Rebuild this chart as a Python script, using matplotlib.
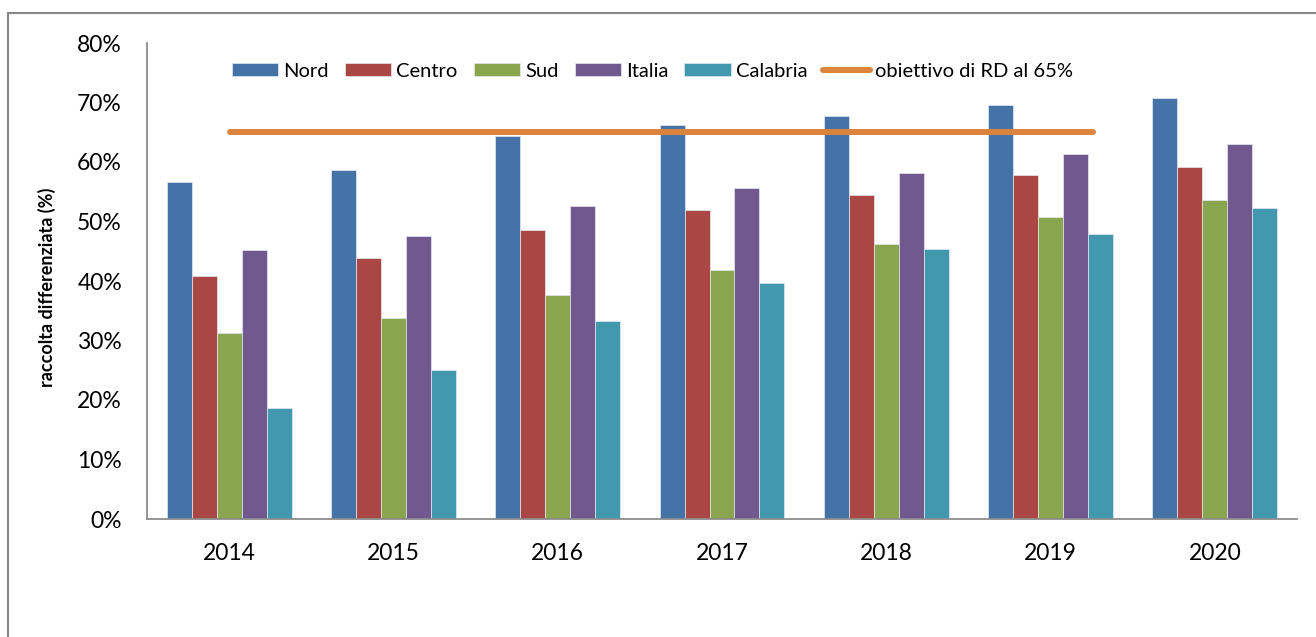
import matplotlib
matplotlib.use("Agg")
import matplotlib.pyplot as plt
from matplotlib.lines import Line2D
import numpy as np

plt.rcParams['font.family'] = ['Lato', 'DejaVu Sans']

years = ['2014', '2015', '2016', '2017', '2018', '2019', '2020']
nord = [56.7, 58.7, 64.3, 66.2, 67.7, 69.6, 70.8]
centro = [40.9, 43.8, 48.6, 51.9, 54.4, 57.8, 59.2]
sud = [31.3, 33.7, 37.7, 41.9, 46.2, 50.7, 53.6]
italia = [45.2, 47.5, 52.6, 55.6, 58.2, 61.3, 63.1]
calabria = [18.6, 25.0, 33.3, 39.7, 45.3, 47.9, 52.2]
target = 65
series_names = ['Nord', 'Centro', 'Sud', 'Italia', 'Calabria']
target_label = 'obiettivo di RD al 65%'
ylabel = 'raccolta differenziata (%)'

colors = ['#4572A7', '#AA4643', '#89A54E', '#71588F', '#4198AF']
orange = '#DB843D'

W, H = 1316, 637
fig = plt.figure(figsize=(W / 100, H / 100), dpi=100)
ax = fig.add_axes([147 / W, 1 - 519 / H, (1297 - 147) / W, (519 - 43) / H])

x = np.arange(len(years))
bw = 0.152
series = [nord, centro, sud, italia, calabria]
handles = []
for i, (vals, name, c) in enumerate(zip(series, series_names, colors)):
    b = ax.bar(x + (i - 2) * bw, vals, width=bw, color=c, edgecolor='#e4e9f0',
               linewidth=0.5, label=name, zorder=2)
    handles.append(b)

# target line
ax.hlines(target, 0.005, 5.26, colors=orange, linewidth=4.3, zorder=3,
          capstyle='round')
line_handle = Line2D([0], [0], color=orange, linewidth=4.3,
                     solid_capstyle='round', label=target_label)

ax.set_xlim(-0.5, len(years) - 0.5)
ax.set_ylim(0, 80)
ax.set_yticks(np.arange(0, 81, 10))
ax.set_yticklabels([f'{v}%' for v in range(0, 81, 10)], fontsize=16.5)
ax.set_xticks(x)
ax.set_xticklabels(years, fontsize=16.5)
ax.tick_params(axis='y', length=0, pad=18)
ax.tick_params(axis='x', length=0, pad=17)
for s in ['top', 'right']:
    ax.spines[s].set_visible(False)
for s in ['left', 'bottom']:
    ax.spines[s].set_color('#8c8c8c')
    ax.spines[s].set_linewidth(1.3)

ax.set_ylabel(ylabel, fontsize=13, fontweight='bold')
ax.yaxis.set_label_coords((56 - 147) / (1297 - 147), (519 - 287) / (519 - 43))

leg = ax.legend(handles + [line_handle], series_names + [target_label],
                loc='center left', bbox_to_anchor=(0.074, 0.941), ncol=6,
                frameon=False, fontsize=14.5, handlelength=2.3,
                handleheight=0.65, handletextpad=0.25, columnspacing=0.8,
                borderpad=0, borderaxespad=0)

# outer frame
fig.add_artist(Line2D([8 / W, 1.0], [1 - 13 / H, 1 - 13 / H],
                      transform=fig.transFigure, color='#878787', linewidth=1.5))
fig.add_artist(Line2D([8 / W, 8 / W], [0, 1 - 13 / H],
                      transform=fig.transFigure, color='#878787', linewidth=1.5))

fig.savefig('out.png', dpi=100)
